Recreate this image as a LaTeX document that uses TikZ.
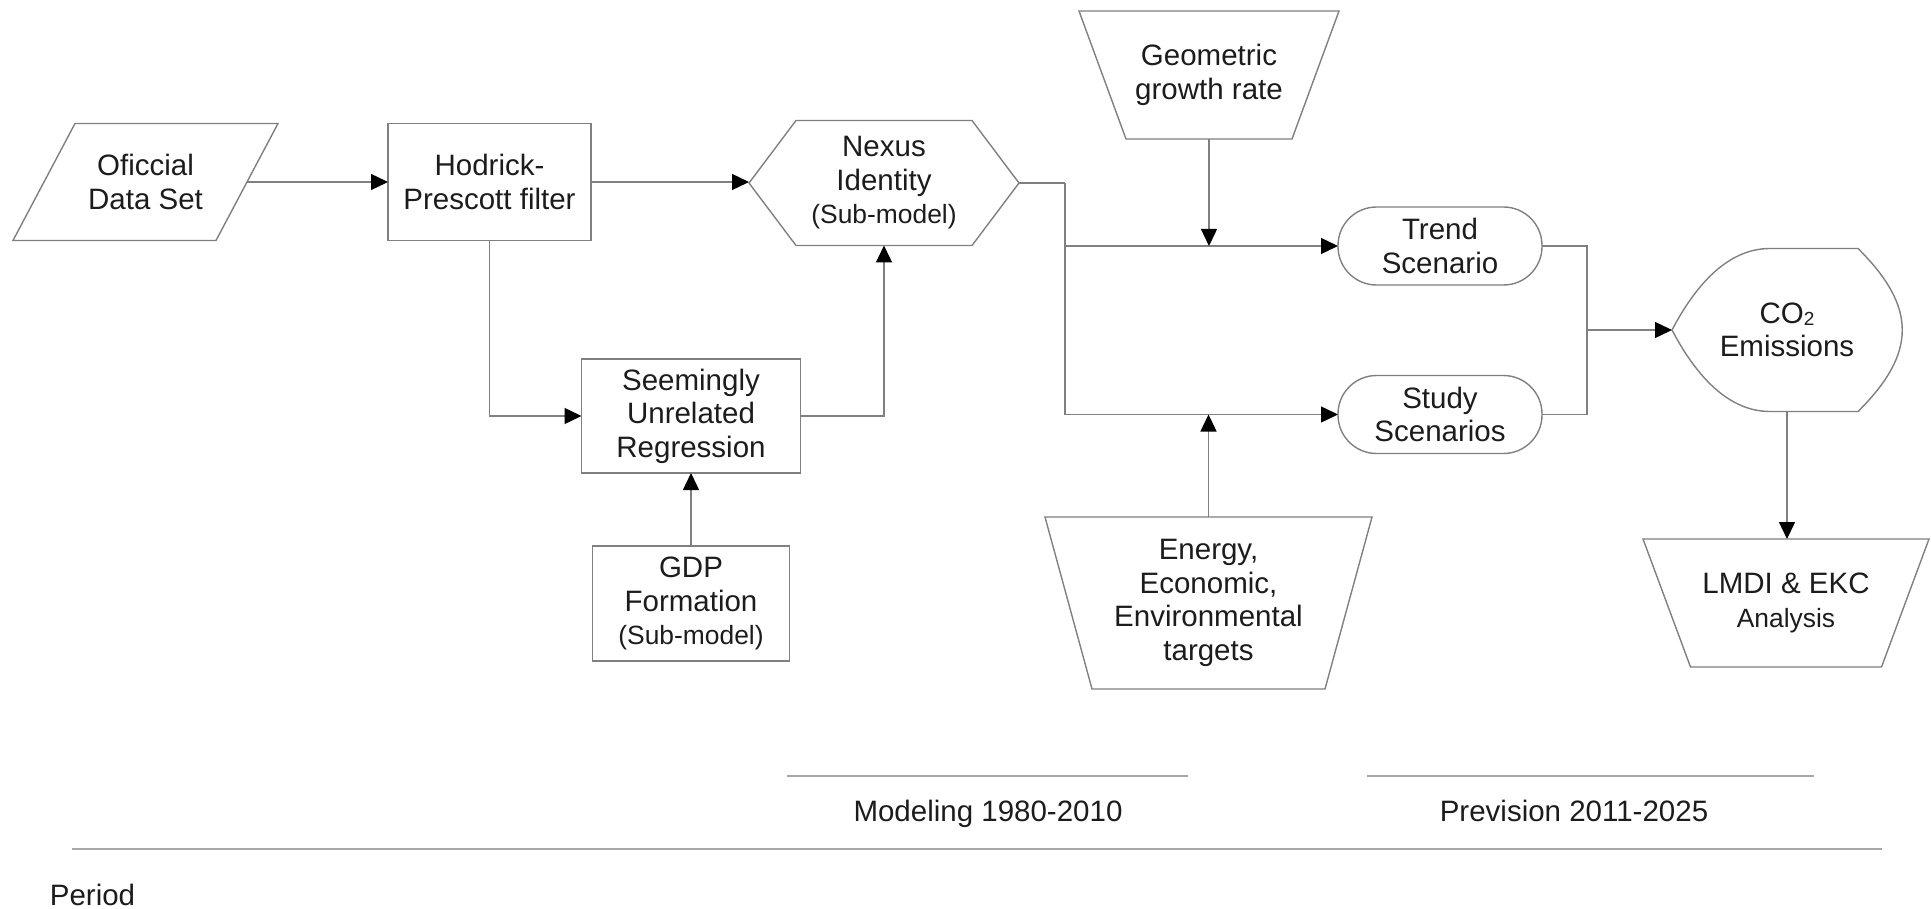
\documentclass[tikz,border=0pt]{standalone}
\usepackage{fontspec}
\setmainfont{Liberation Sans}
\usetikzlibrary{arrows.meta,calc}
\definecolor{linegray}{HTML}{808080}
\definecolor{txt}{HTML}{1C1C1C}
\definecolor{rulegray}{HTML}{A8A8A8}
\newcommand{\mainsz}{\fontsize{29.5}{33.5}\selectfont}
\newcommand{\subsz}{\fontsize{26.4}{31}\selectfont}
\begin{document}
\begin{tikzpicture}[x=1pt,y=-1pt,
  every node/.style={inner sep=0pt, outer sep=0pt, align=center, text=txt, font=\mainsz},
  boxnode/.style={draw=linegray, line width=1.4pt},
  stadium/.style={draw=linegray, line width=1.4pt, rounded corners=38.5pt},
  arr/.style={draw=linegray, line width=1.4pt, -{Triangle[length=17pt,width=16pt,color=black]}},
  conn/.style={draw=linegray, line width=1.4pt},
  outline/.style={draw=linegray, line width=1.4pt, line join=miter},
  rulel/.style={draw=rulegray, line width=2.5pt}
]
\useasboundingbox (0,0) rectangle (1931,909);

% --- nodes ---
\node[minimum width=203pt, minimum height=117pt] (data) at (145.5,182) {Oficcial\\Data Set};
\draw[outline] ($(data.north west)+(31,0)$) -- ($(data.north east)+(31,0)$) -- ($(data.south east)+(-31,0)$) -- ($(data.south west)+(-31,0)$) -- cycle;

\node[boxnode, minimum width=203pt, minimum height=117pt] (hp) at (489.5,182) {Hodrick-\\Prescott filter};

\node[minimum width=270pt, minimum height=125pt] (nexus) at (884,183) {Nexus\\Identity\\{\subsz (Sub-model)}};
\draw[outline] (nexus.west) -- ($(nexus.north west)+(47,0)$) -- ($(nexus.north east)+(-47,0)$) -- (nexus.east) -- ($(nexus.south east)+(-47,0)$) -- ($(nexus.south west)+(47,0)$) -- cycle;

\node[boxnode, minimum width=219pt, minimum height=114pt] (sur) at (691,416) {Seemingly\\Unrelated\\Regression};
\node[boxnode, minimum width=197pt, minimum height=115pt] (gdp) at (691,603.5) {GDP\\Formation\\{\subsz (Sub-model)}};

\node[minimum width=260pt, minimum height=128pt] (geo) at (1209,75) {Geometric\\growth rate};
\draw[outline] (geo.north west) -- (geo.north east) -- ($(geo.south east)+(-47,0)$) -- ($(geo.south west)+(47,0)$) -- cycle;

\node[minimum width=327pt, minimum height=172pt] (energy) at (1208.5,603) {Energy,\\Economic,\\Environmental\\targets};
\draw[outline] (energy.north west) -- (energy.north east) -- ($(energy.south east)+(-47,0)$) -- ($(energy.south west)+(47,0)$) -- cycle;

\node[stadium, minimum width=204pt, minimum height=78pt] (trend) at (1440,246) {Trend\\Scenario};
\node[stadium, minimum width=204pt, minimum height=78pt] (study) at (1440,414.5) {Study\\Scenarios};

\node[minimum width=230pt, minimum height=163pt] (co2) at (1787,330) {CO\raisebox{-0.08em}{\fontsize{19}{19}\selectfont 2}\\Emissions};
\draw[outline] (co2.west) .. controls ($(co2.center)+(-94,-40)$) and ($(co2.center)+(-62,-81.5)$) .. ($(co2.center)+(-17,-81.5)$) -- ($(co2.center)+(71,-81.5)$) .. controls ($(co2.center)+(130,-23)$) and ($(co2.center)+(130,23)$) .. ($(co2.center)+(71,81.5)$) -- ($(co2.center)+(-17,81.5)$) .. controls ($(co2.center)+(-62,81.5)$) and ($(co2.center)+(-94,40)$) .. cycle;

\node[minimum width=286pt, minimum height=128pt] (lmdi) at (1786,603) {LMDI \& EKC\\{\subsz Analysis}};
\draw[outline] (lmdi.north west) -- (lmdi.north east) -- ($(lmdi.south east)+(-47.5,0)$) -- ($(lmdi.south west)+(47.5,0)$) -- cycle;

% --- junctions ---
\coordinate (j1) at (1065,183);
\coordinate (j2) at (1587,330);

% --- connectors ---
\draw[arr] (data.east) -- (hp.west);
\draw[arr] (hp.east) -- (hp.east -| nexus.west);
\draw[conn] (nexus.east) -- (j1);
\draw[arr] (j1) |- (trend.west);
\draw[arr] (j1) |- (study.west);
\draw[arr] (geo.south) -- (geo.south |- trend.west);
\draw[arr] (energy.north) -- (energy.north |- study.west);
\draw[conn] (trend.east) -| (j2);
\draw[conn] (study.east) -| (j2);
\draw[arr] (j2) -- (co2.west);
\draw[arr] (co2.south) -- (co2.south |- lmdi.north);
\draw[arr] (hp.south) |- (sur.west);
\draw[arr] (sur.east) -| (nexus.south);
\draw[arr] (gdp.north) -- (sur.south);

% --- period rules ---
\draw[rulel] (787,776) -- (1188,776);
\draw[rulel] (1367,776) -- (1814,776);
\draw[rulel] (72,849) -- (1882,849);
\node[anchor=base] (model) at (988,821) {Modeling 1980-2010};
\node[anchor=base] (prev) at (1574,821) {Prevision 2011-2025};
\node[anchor=base] (period) at (92.5,905) {Period};
\end{tikzpicture}
\end{document}
